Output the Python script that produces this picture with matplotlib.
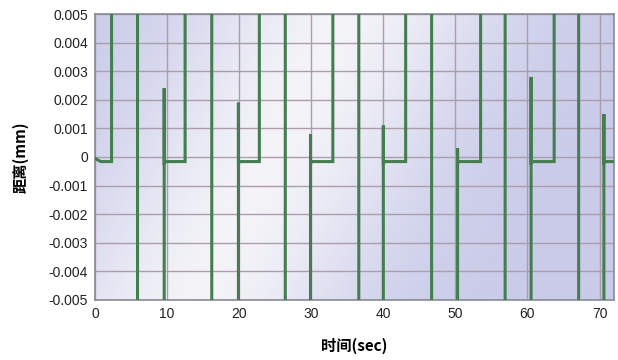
import numpy as np
import matplotlib
matplotlib.use("Agg")
import matplotlib.pyplot as plt
from matplotlib.colors import LinearSegmentedColormap

plt.rcParams['font.family'] = ['Liberation Sans', 'Noto Sans CJK SC', 'DejaVu Sans']

# --- data (seconds, mm) ---
t_up = [2.3, 12.5, 22.8, 33.0, 43.1, 53.5, 63.7]      # rise off the top
t_down = [5.9, 16.2, 26.4, 36.6, 46.7, 56.9, 67.1]    # full drop top -> bottom
t_back = [9.6, 19.9, 29.9, 40.0, 50.3, 60.5, 70.6]    # return from bottom
peaks = [0.0024, 0.0019, 0.0008, 0.0011, 0.0003, 0.0028, 0.0015]
base = -0.00016
start_val = -0.00005
t_end = 72
hi, lo = 0.0065, -0.0065   # off-scale values (clipped by the axes)

t = [0, 0.8]
y = [start_val, base]
for k in range(len(t_up)):
    t += [t_up[k], t_up[k], t_down[k], t_down[k], t_back[k], t_back[k], t_back[k], t_back[k] + 0.3]
    y += [base, hi, hi, lo, lo, peaks[k], base - 0.00004, base]
t += [t_end]
y += [base]

fig = plt.figure(figsize=(6.18, 3.6), dpi=100, facecolor='white')
ax = fig.add_axes([0.1537, 0.1667, 0.8398, 0.7944])

# gradient background: lavender with a diagonal pale band
u, v = np.meshgrid(np.linspace(0, 1, 300), np.linspace(0, 1, 200))
w = np.exp(-((u - (0.2 + 0.28 * v)) / 0.3) ** 2)
cmap = LinearSegmentedColormap.from_list('bg', ['#c9cbe9', '#f3f3f8'])
ax.imshow(w, cmap=cmap, extent=[0, t_end, -0.005, 0.005], origin='lower',
          aspect='auto', zorder=0, vmin=0, vmax=1)

ax.plot(t, y, color='#437d50', lw=2.2, zorder=3, solid_joinstyle='miter')

ax.set_xlim(0, t_end)
ax.set_ylim(-0.005, 0.005)
ax.set_xticks(range(0, 71, 10))
yt = np.round(np.arange(-0.005, 0.0051, 0.001), 3)
ax.set_yticks(yt)
ax.set_yticklabels(['0' if abs(v_) < 1e-9 else f"{v_:.3f}" for v_ in yt])
ax.grid(True, color='#ab9dab', lw=1.0, zorder=1)
ax.set_axisbelow(True)
ax.tick_params(length=0, labelsize=10, colors='#222222', pad=5)
for s in ax.spines.values():
    s.set_color('#8a8a96')
    s.set_linewidth(1.2)

ax.set_xlabel("时间(sec)", fontsize=11, fontweight='bold', labelpad=12,
              family=['Noto Sans CJK SC', 'DejaVu Sans'])
ax.set_ylabel("距离(mm)", fontsize=11, fontweight='bold', labelpad=14,
              family=['Noto Sans CJK SC', 'DejaVu Sans'])

fig.savefig("out.png", dpi=100)
